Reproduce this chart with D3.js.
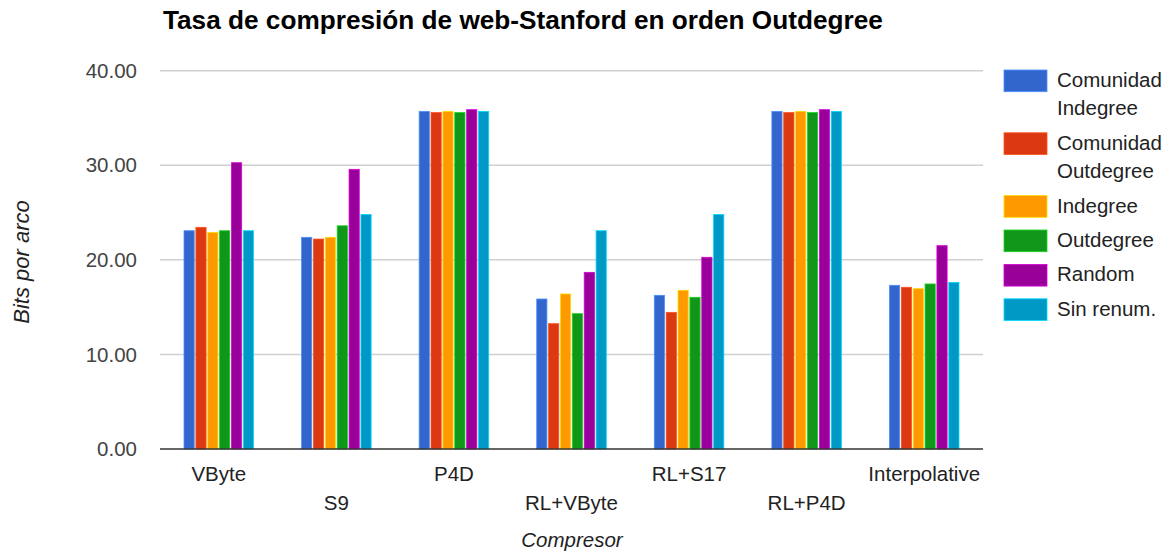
<!DOCTYPE html>
<html>
<head>
<meta charset="utf-8">
<script src="https://cdn.jsdelivr.net/npm/d3@7"></script>
<style>
  body { margin: 0; background: #fff; }
  text { font-family: Arial, "Liberation Sans", sans-serif; }
</style>
</head>
<body>
<div id="chart"></div>
<script>
// categories on the x axis
const compresores = ["VByte", "S9", "P4D", "RL+VByte", "RL+S17", "RL+P4D", "Interpolative"]
// series names (legend)
const series = ["Comunidad Indegree", "Comunidad Outdegree", "Indegree", "Outdegree", "Random", "Sin renum."]
const colors = ["#3366cc", "#dc3912", "#ff9900", "#109618", "#990099", "#0099c6"]

// bits per edge, one array per series, in the order of compresores
const comunidadIndegree  = [23.08, 22.38, 35.70, 15.86, 16.25, 35.70, 17.31]
const comunidadOutdegree = [23.44, 22.20, 35.57, 13.25, 14.45, 35.57, 17.10]
const indegree           = [22.90, 22.38, 35.70, 16.39, 16.78, 35.70, 16.95]
const outdegree          = [23.08, 23.60, 35.57, 14.31, 16.04, 35.57, 17.45]
const random             = [30.27, 29.57, 35.88, 18.68, 20.27, 35.88, 21.50]
const sinRenum           = [23.08, 24.80, 35.70, 23.08, 24.80, 35.70, 17.62]
const values = [comunidadIndegree, comunidadOutdegree, indegree, outdegree, random, sinRenum]

const yTicks = [0, 10, 20, 30, 40]

const width = 1170
const height = 555
const plotLeft = 160
const plotRight = 983
const plotTop = 70.7
const plotBottom = 449

let svg = d3.select("#chart")
    .append("svg")
    .attr("width", width)
    .attr("height", height)

let x = d3.scaleBand()
    .domain(compresores)
    .range([plotLeft, plotRight])
    .paddingInner(0.38)
    .paddingOuter(0.19)

let xSeries = d3.scaleBand()
    .domain(series)
    .range([0, x.bandwidth()])
    .padding(0.14)

let y = d3.scaleLinear()
    .domain([0, 40])
    .range([plotBottom, plotTop])

// gridlines
svg.append("g")
    .selectAll("line")
    .data(yTicks.filter(d => d > 0))
    .enter()
    .append("line")
    .attr("x1", plotLeft)
    .attr("x2", plotRight)
    .attr("y1", d => y(d))
    .attr("y2", d => y(d))
    .attr("stroke", "#d0d0d0")
    .attr("stroke-width", 1.5)

// y tick labels
svg.append("g")
    .selectAll("text")
    .data(yTicks)
    .enter()
    .append("text")
    .attr("x", 137)
    .attr("y", d => y(d))
    .attr("dy", "0.35em")
    .attr("text-anchor", "end")
    .attr("font-size", "20.5px")
    .attr("fill", "#444")
    .text(d => d3.format(".2f")(d))

// bars
let groups = svg.append("g")
    .selectAll("g")
    .data(compresores)
    .enter()
    .append("g")
    .attr("transform", d => `translate(${x(d)},0)`)

groups.selectAll("rect")
    .data((c, ci) => series.map((s, si) => ({ s: s, si: si, v: values[si][ci] })))
    .enter()
    .append("rect")
    .attr("x", d => xSeries(d.s))
    .attr("y", d => y(d.v))
    .attr("width", xSeries.bandwidth())
    .attr("height", d => y(0) - y(d.v))
    .attr("fill", d => colors[d.si])
    .attr("stroke", d => d3.color(colors[d.si]).brighter(1))
    .attr("stroke-width", 0.8)

// baseline
svg.append("line")
    .attr("x1", plotLeft)
    .attr("x2", plotRight)
    .attr("y1", y(0))
    .attr("y2", y(0))
    .attr("stroke", "#333")
    .attr("stroke-width", 1.5)

// x labels, alternating rows
svg.append("g")
    .selectAll("text")
    .data(compresores)
    .enter()
    .append("text")
    .attr("x", d => x(d) + x.bandwidth() / 2)
    .attr("y", (d, i) => i % 2 === 0 ? 481 : 510)
    .attr("text-anchor", "middle")
    .attr("font-size", "20.5px")
    .attr("fill", "#222")
    .text(d => d)

// axis titles
svg.append("text")
    .attr("x", 572)
    .attr("y", 547)
    .attr("text-anchor", "middle")
    .attr("font-size", "20.5px")
    .attr("font-style", "italic")
    .attr("fill", "#222")
    .text("Compresor")

svg.append("text")
    .attr("transform", "translate(29, 262) rotate(-90)")
    .attr("text-anchor", "middle")
    .attr("font-size", "22px")
    .attr("font-style", "italic")
    .attr("fill", "#222")
    .text("Bits por arco")

// title
svg.append("text")
    .attr("x", 163)
    .attr("y", 29)
    .attr("font-size", "26.2px")
    .attr("font-weight", "bold")
    .attr("fill", "#000")
    .text("Tasa de compresión de web-Stanford en orden Outdegree")

// legend
const lineHeight = 28.4
const rowGap = 6
let legendY = 70
let legend = svg.append("g")

series.forEach((s, i) => {
    let t = legend.append("text")
        .attr("x", 1057)
        .attr("font-size", "20.5px")
        .attr("fill", "#222")
    // wrap words that do not fit to the right edge
    let words = s.split(" ")
    let lines = [words[0]]
    words.slice(1).forEach(w => {
        t.text(lines[lines.length - 1] + " " + w)
        if (t.node().getComputedTextLength() > 110) lines.push(w)
        else lines[lines.length - 1] += " " + w
    })
    t.text(null)
    lines.forEach((l, li) => {
        t.append("tspan")
            .attr("x", 1057)
            .attr("y", legendY + 17 + li * lineHeight)
            .text(l)
    })
    legend.append("rect")
        .attr("x", 1004)
        .attr("y", legendY)
        .attr("width", 43)
        .attr("height", 21.7)
        .attr("fill", colors[i])
        .attr("stroke", d3.color(colors[i]).brighter(1))
        .attr("stroke-width", 0.8)
    legendY += lines.length * lineHeight + rowGap
})
</script>
</body>
</html>
